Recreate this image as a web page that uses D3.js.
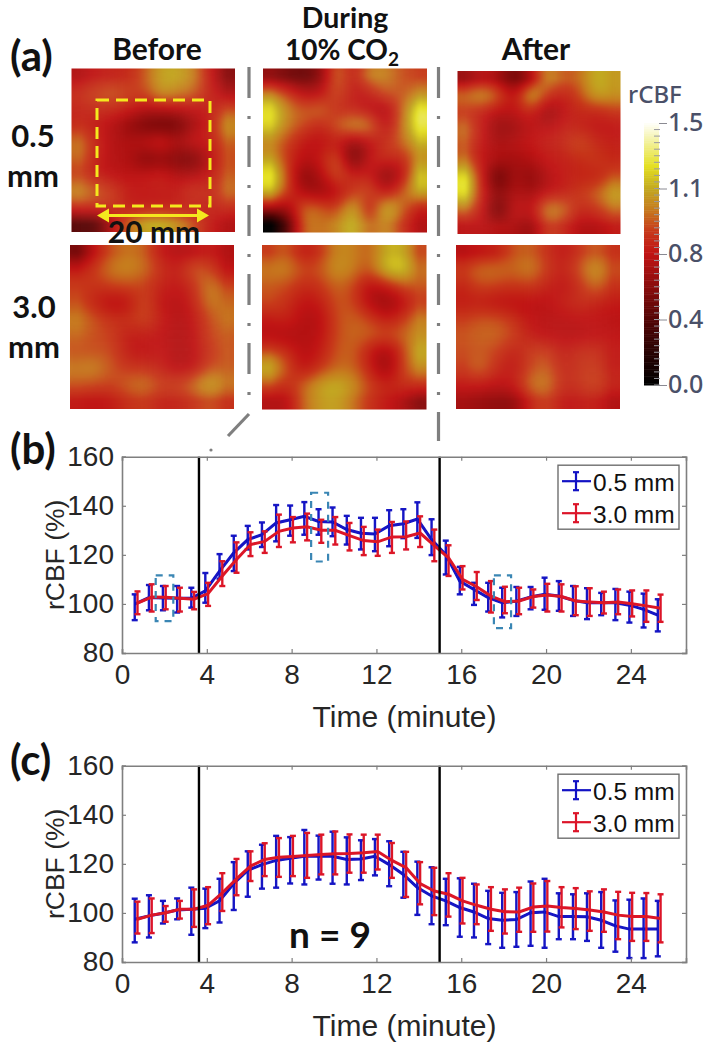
<!DOCTYPE html>
<html>
<head>
<meta charset="utf-8">
<script src="https://cdn.jsdelivr.net/npm/d3@7"></script>
<style>
  html, body { margin: 0; padding: 0; background: #fff; }
  svg { display: block; }
  .heading { font-family: Lato, sans-serif; font-weight: 700; fill: #111; }
  .axis text { font-family: "Liberation Sans", sans-serif; font-size: 28px; fill: #262626; }
</style>
</head>
<body>
<script>
// rCBF maps, 10 x 10 values
var beforeThin = [
  [.72,.78,.8,.82,.92,1.08,1.08,1.0,.78,.6],
  [.85,.92,.95,.9,.88,1.08,1.0,.95,.8,.7],
  [.8,.82,.82,.8,.72,.72,.74,.75,.78,.9],
  [.82,.78,.72,.62,.52,.48,.5,.68,.8,1.05],
  [.98,.82,.72,.72,.78,.88,.72,.82,.78,.92],
  [.95,.8,.72,.72,.55,.6,.55,.52,.75,.9],
  [.85,.78,.74,.75,.78,.82,.72,.72,.78,.92],
  [1.05,.95,.88,.78,.76,.78,.78,.88,.8,.98],
  [.85,.85,.85,.78,.78,.78,.78,.78,.8,.82],
  [.45,.45,.75,.95,1.08,1.1,1.02,.9,.78,.72]
]
var duringThin = [
  [.62,.55,.5,.6,1.0,.75,1.0,1.0,.9,.88],
  [1.0,.88,.72,.72,.95,.75,.78,.95,.9,1.0],
  [1.22,1.0,.92,1.0,.8,.8,.72,.65,.95,1.25],
  [1.18,.98,.9,.78,.95,1.08,1.05,.7,.98,1.25],
  [.98,.88,.75,.74,.78,.6,.72,.85,.95,1.1],
  [1.05,.85,.74,.78,.98,.45,.8,.85,.8,1.0],
  [1.25,.9,.55,.72,.95,.8,.8,.55,.72,1.15],
  [1.15,.88,.68,.62,.72,.85,.95,.7,.95,1.12],
  [.72,.65,1.0,.95,.85,1.15,.7,1.2,.95,.78],
  [.1,.45,1.0,.95,1.0,1.15,.9,1.05,.85,.72]
]
var afterThin = [
  [.65,.75,.7,.5,.72,1.05,.9,.95,1.12,1.05],
  [1.02,1.1,.98,.72,1.2,.85,.78,.9,1.1,1.05],
  [.82,.78,.72,.75,.82,.6,.75,.82,.78,.85],
  [.98,.78,.62,.65,.75,.75,.8,.8,.76,.75],
  [.9,.76,.7,.75,.78,.8,.82,.95,.82,.8],
  [.95,.74,.72,.66,.72,.78,.78,.82,.88,.82],
  [1.22,.8,.42,.72,.58,.72,.78,.82,.78,.9],
  [1.22,.8,.62,.72,.68,.75,.78,.88,.95,1.1],
  [.95,.8,.45,.82,.72,1.08,1.0,.8,.85,.95],
  [.75,.75,.72,.72,.62,.9,.82,.72,.72,.78]
]
var beforeThick = [
  [.55,.78,.92,.98,.95,.78,.72,.75,.8,.72],
  [.8,.88,1.0,1.02,.98,.85,.78,.95,.9,.75],
  [.88,.85,.88,.9,.88,.8,.76,.82,1.02,.9],
  [.9,.8,.72,.74,.92,.76,.72,.8,1.0,.95],
  [1.0,.92,.85,.85,.92,.8,.72,.76,.9,.98],
  [.95,.9,.88,.78,.78,.76,.72,.74,.9,.92],
  [.9,.9,.9,.78,.74,.78,.72,.74,.85,.92],
  [1.0,1.02,.92,.85,.85,.8,.72,.74,.9,.92],
  [.92,.9,.88,.95,1.0,.9,.9,.98,1.12,1.0],
  [.78,.76,.78,.85,.88,.8,.8,.85,.92,.85]
]
var duringThick = [
  [.88,.95,.78,.85,1.02,1.0,.92,1.1,1.12,.9],
  [1.0,1.02,.9,.92,1.05,1.0,.9,1.15,1.2,.98],
  [.92,.9,.82,.85,.95,.9,.72,.76,.9,.92],
  [.9,.85,.75,.78,.92,.9,.72,.62,.72,.85],
  [.78,.82,.72,.72,.9,.95,.9,.78,.85,1.0],
  [.72,.7,.72,.74,.9,.95,.95,.92,.95,1.02],
  [.9,.85,.72,.78,.92,.95,.78,.65,.85,1.1],
  [1.15,.92,.74,.85,.95,.95,.82,.62,.88,1.02],
  [.9,.82,.95,1.08,1.12,1.05,.9,.82,.85,.85],
  [.72,.72,.95,1.05,1.08,.98,.85,.78,.72,.6]
]
var afterThick = [
  [.74,.78,.8,.92,.95,.85,.76,.85,.95,.85],
  [.9,.98,.98,.95,1.02,.88,.78,.92,1.08,.92],
  [.82,.9,.88,.85,.88,.8,.75,.82,.98,.85],
  [.78,.78,.74,.74,.74,.74,.8,.85,.8,.78],
  [.88,.92,.92,.85,.76,.74,.74,.76,.76,.74],
  [.92,.95,.95,.9,.78,.74,.74,.72,.76,.76],
  [.9,.92,.88,.78,.88,.9,.78,.85,.85,.78],
  [.88,.98,.82,.76,.88,.95,.8,.85,.88,.78],
  [.78,.78,.75,.78,.98,1.02,.82,.85,.92,.82],
  [.68,.65,.62,.62,.82,.9,.76,.78,.8,.72]
]

// time courses
var timeThin = [.6,1.27,1.93,2.6,3.27,3.93,4.6,5.27,5.93,6.6,7.27,7.93,8.6,9.27,9.93,10.6,11.27,11.93,12.6,13.27,13.93,14.6,15.27,15.93,16.6,17.27,17.93,18.6,19.27,19.93,20.6,21.27,21.93,22.6,23.27,23.93,24.6,25.27]
var timeThick = [.73,1.4,2.06,2.73,3.4,4.06,4.73,5.4,6.06,6.73,7.4,8.06,8.73,9.4,10.06,10.73,11.4,12.06,12.73,13.4,14.06,14.73,15.4,16.06,16.73,17.4,18.06,18.73,19.4,20.06,20.73,21.4,22.06,22.73,23.4,24.06,24.73,25.4]

var bThinMean = [99.9,102.6,102.4,102.3,102.3,105.3,113.4,120.8,126.2,128.2,133,134.3,135.7,133.6,133.4,130.3,128.8,128.5,131.9,132.7,134.6,126.2,120.1,109.3,105.9,102.6,100.5,101.1,102.8,103.9,103.2,101.5,100.5,100.5,100.5,99.5,97.8,95.4]
var bThinHigh = [103.9,107.7,107.3,107.3,106.6,112.6,120.3,127.8,131.8,133.2,140.3,140.1,141.5,138.6,139.3,135.9,135.1,135.1,138.2,138.6,141.4,134.5,125.8,115.1,108.6,108.6,106.6,106.9,106.9,110.7,109.3,107.3,106.4,104.5,106.1,105,104.2,101.9]
var bThinLow = [93.4,97.4,97.4,96.5,98.5,100.5,110.3,113.4,122.2,123.2,125.5,127.8,128.2,128.2,127.6,124.2,122.2,121.5,123.5,126.8,126.9,119.9,112,103.9,99.6,96.9,94.5,95.1,97.8,97.6,97.2,95.1,93.8,95.4,93.4,92.4,90.4,88.8]

var bThickMean = [100.3,102.8,102.7,102.3,101.9,104.2,111.4,118.1,124.2,125.5,129.6,130.9,131.4,130,130,127.8,125.8,125.3,127.3,127.4,128.9,123.8,118.8,110,107,103.2,100.9,101.2,103,103.6,103,101.2,100.8,100.5,100.8,100.1,99.2,98.2]
var bThickHigh = [105.1,108,107.3,106.6,104.9,108.6,117.4,125.1,129.2,129.6,136.4,135.4,136.8,134.3,135.4,133,131.4,130.3,133.4,133.6,135.7,130.3,123.9,115.4,113,109.3,107,106.6,105.9,108.2,108,107.2,106.4,105,105.9,105.5,105.5,103.8]
var bThickLow = [95.8,96.9,97.8,96.9,97.8,99.2,107.3,112.7,119.5,120.8,123.2,125.1,125.9,124.9,124.2,121.8,119.9,119.6,120.8,122.2,123.2,117.4,111.4,105.9,101.6,96.5,96.2,95.8,98.5,96.9,96.9,95.4,95.1,96.1,95.8,94.9,92.7,92.7]

var cThinMean = [97.4,98.8,99.9,101.2,101.5,101.9,104.9,112,117.3,119.7,121.4,122.3,123.1,123.1,123.1,121.8,122,123.1,119.7,115.7,110.3,106.9,104.9,102.2,100.4,97.7,97,97.3,100.1,100.4,98.5,98.5,98.4,97,94.7,93.4,93.4,93.4]
var cThinHigh = [105.8,107.2,104.9,105.9,110.3,109.9,113.9,120.7,125.1,127.8,131.4,130.9,133.8,131.5,133.1,130.8,129.6,130.1,129.2,124.9,120.9,118.6,113.9,114.1,111.9,109,108.2,108.5,112.8,113.9,108,107.6,108,108.5,105.1,105.4,105.9,104.9]
var cThinLow = [88,90,95.7,97.4,91.1,93.8,96.1,101.2,106.6,109.9,110.3,112,111.6,113.6,111.9,111.6,113.4,115.3,110.9,106.2,99.2,95.4,95,90.3,90,87.3,85.8,86.2,86.6,85.8,89.3,89.3,88.6,85.8,84.2,81.6,81.6,82.3]

var cThickMean = [97.4,99.1,100.1,101.5,101.5,103.1,108.2,113.9,119.1,121.8,122.7,123,123.4,123.8,124.1,124.2,124.5,125,121.4,118.4,112,108.9,107.6,104.9,103.1,101.5,100.5,100.4,102.4,102.8,102.2,101.8,101.2,100.4,99.1,98.5,98.5,97.7]
var cThickHigh = [104.6,105.9,102.8,104.9,109.6,110.5,116.2,122,125.1,128.4,130.5,131.4,132.6,131.9,133.2,132,131.9,131.9,128.5,124.9,120.7,118.4,116.2,114.3,111.6,110.5,109.6,110.3,112,113,110.5,110.1,108.8,109.6,108.6,108.2,108.1,107.6]
var cThickLow = [91.6,91.8,96.4,97.7,94.3,95.4,100.8,107.2,113,115,114.7,115,114.3,115.7,115.7,116.4,116.4,117.7,114.3,106.5,103.5,99.1,98.5,95.7,95.4,92.7,91.6,92.3,92.3,92.4,94.1,93.4,92.7,92.3,89.3,88.6,88.6,88]

var eventTimes = [3.63, 14.98]
var xTicks = [0, 4, 8, 12, 16, 20, 24]
var yTicks = [80, 100, 120, 140, 160]
var legendLabels = ['0.5 mm', '3.0 mm']
// dashed boxes in (b): t0, t1, rCBF low, rCBF high
var boxT0 = [1.59, 8.92, 17.54]
var boxT1 = [2.42, 9.72, 18.35]
var boxLow = [93, 117.3, 90.1]
var boxHigh = [111.6, 145.3, 111.6]

var cbarTicks = [0, .375, .75, 1.125, 1.5]
var colorStops = [0, .35, .6, .75, .88, 1.0, 1.12, 1.25, 1.5]
var colorValues = ['#000000', '#4d0505', '#950e0e', '#c01414', '#c73a1a', '#c67a1e', '#c2a820', '#e4e022', '#ffffff']

var blue = '#1212c4', red = '#dc1428'

var svg = d3.select('body').append('svg')
  .attr('width', 708)
  .attr('height', 1050)
  .style('font-family', 'Lato, sans-serif')

var defs = svg.append('defs')
defs.append('filter').attr('id', 'soft')
  .attr('filterUnits', 'userSpaceOnUse')
  .attr('x', -20).attr('y', -20).attr('width', 220).attr('height', 220)
  .attr('color-interpolation-filters', 'sRGB')
  .append('feGaussianBlur').attr('stdDeviation', 1.5)
defs.append('filter').attr('id', 'soft-mark')
  .attr('filterUnits', 'userSpaceOnUse')
  .attr('x', 0).attr('y', 0).attr('width', 708).attr('height', 1050)
  .append('feGaussianBlur').attr('stdDeviation', 0.35)

var color = d3.scaleLinear().domain(colorStops).range(colorValues).clamp(true)

// one heat map panel: the 10 x 10 grid is splined up to small cells, then coloured
function heatmap(id, grid, left, top, size) {
  var steps = 55
  var fine = d3.range(steps)
  var band = d3.scaleBand().domain(fine).range([0, size])
  // fine index to spline position, grid values sit at cell centres
  var pos = d3.scaleLinear().domain([-.5, steps - .5]).range([-.5 / 9, 9.5 / 9]).clamp(true)
  var columns = d3.range(10).map(c => d3.interpolateBasis(grid.map(row => row[c])))
  var pad = 6
  defs.append('clipPath').attr('id', id)
    .append('rect').attr('width', size).attr('height', size)
  var g = svg.append('g')
    .attr('transform', 'translate(' + left + ',' + top + ')')
    .attr('clip-path', 'url(#' + id + ')')
    .append('g').attr('filter', 'url(#soft)')
  fine.forEach(r => {
    var tr = Math.max(0, Math.min(1, pos(r)))
    var across = d3.interpolateBasis(columns.map(f => f(tr)))
    fine.forEach(c => {
      var v = across(Math.max(0, Math.min(1, pos(c))))
      // edge cells run past the clip so the blur does not fade out
      var x0 = band(c) - (c === 0 ? pad : 0)
      var x1 = band(c) + band.bandwidth() + (c === steps - 1 ? pad : 0) + .4
      var y0 = band(r) - (r === 0 ? pad : 0)
      var y1 = band(r) + band.bandwidth() + (r === steps - 1 ? pad : 0) + .4
      g.append('rect')
        .attr('x', x0).attr('y', y0)
        .attr('width', x1 - x0).attr('height', y1 - y0)
        // stretch a little, the spline flattens the peaks
        .attr('fill', color(.85 + (v - .85) * 1.15))
    })
  })
}

heatmap('m1', beforeThin, 71.5, 68.5, 163.5)
heatmap('m2', duringThin, 263, 68.5, 164)
heatmap('m3', afterThin, 457.5, 71, 163)
heatmap('m4', beforeThick, 70, 245, 164)
heatmap('m5', duringThick, 262, 245, 164.5)
heatmap('m6', afterThick, 456, 245, 164)

// region of interest and scale arrow
svg.append('rect')
  .attr('x', 97).attr('y', 100).attr('width', 113).attr('height', 106)
  .attr('fill', 'none').attr('stroke', '#f4e81e').attr('stroke-width', 3)
  .attr('stroke-dasharray', '12 7')

function arrowHead(x, dir) {
  svg.append('path')
    .attr('d', 'M' + x + ' 215.5 l' + (dir * 12) + ' -7 v14 z')
    .attr('fill', '#f4e81e')
}
svg.append('line')
  .attr('x1', 100).attr('x2', 206).attr('y1', 215.5).attr('y2', 215.5)
  .attr('stroke', '#f4e81e').attr('stroke-width', 3)
arrowHead(97, 1)
arrowHead(209, -1)

// grey dash-dot separators
function separator(d) {
  svg.append('path')
    .attr('d', d)
    .attr('fill', 'none').attr('stroke', '#7f7f7f').attr('stroke-width', 3.2)
    .attr('stroke-dasharray', '31 18 3 17')
}
separator('M249 67 V406')
separator('M438.5 67 V441')
svg.append('line')
  .attr('x1', 249).attr('y1', 414).attr('x2', 228).attr('y2', 436)
  .attr('stroke', '#7f7f7f').attr('stroke-width', 3.2)
svg.append('circle').attr('cx', 211).attr('cy', 450).attr('r', 1.6).attr('fill', '#7f7f7f')

// headings of part (a)
function heading(txt, x, y, size, anchor) {
  return svg.append('text').attr('class', 'heading')
    .attr('x', x).attr('y', y)
    .attr('text-anchor', anchor || 'middle')
    .style('font-size', size + 'px')
    .text(txt)
}
heading('(a)', 10, 71, 42, 'start')
heading('(b)', 10, 464, 42, 'start')
heading('(c)', 10, 775, 42, 'start')
heading('Before', 157, 60, 30)
heading('During', 345, 28, 28.5)
var co2 = heading('10% CO', 342, 60, 28)
co2.append('tspan').attr('dy', 6).style('font-size', '19px').text('2')
heading('After', 536, 60, 30)
heading('0.5', 33, 147, 31)
heading('mm', 33, 187, 31)
heading('3.0', 34, 318, 31)
heading('mm', 34, 358, 31)
heading('20 mm', 154, 243, 30)

// colour bar
var cbarY = d3.scaleLinear().domain([0, 1.5]).range([385, 123])
var cbar = svg.append('g').attr('class', 'cbar')
d3.range(0, 1.5, .01).forEach(v => {
  cbar.append('rect')
    .attr('x', 644).attr('width', 15)
    .attr('y', cbarY(v + .01)).attr('height', cbarY(v) - cbarY(v + .01) + .5)
    .attr('fill', color(v))
})
d3.range(0, 1.5, .0375).forEach(v => {
  cbar.append('line')
    .attr('x1', 654).attr('x2', 660).attr('y1', cbarY(v)).attr('y2', cbarY(v))
    .attr('stroke', '#9a9aa0').attr('stroke-width', 1)
})
var cbarAxis = cbar.append('g')
  .attr('transform', 'translate(659,0)')
  .call(d3.axisRight(cbarY).tickValues(cbarTicks).tickFormat(d3.format('.1f')).tickSize(8).tickPadding(1))
cbarAxis.select('.domain').remove()
cbarAxis.selectAll('.tick line').attr('stroke', '#8a8a92')
cbarAxis.selectAll('text').attr('dy', '.3em')
  .style('font-family', '"Noto Sans", sans-serif').style('font-size', '25px').style('font-weight', 500)
  .attr('fill', '#4a5068')
svg.append('text')
  .attr('x', 628).attr('y', 103)
  .style('font-family', '"Noto Sans", sans-serif').style('font-weight', 500).style('font-size', '24px')
  .attr('fill', '#4a5068')
  .text('rCBF')

// time course panel
function panel(opt) {
  var x = d3.scaleLinear().domain([0, 26.6]).range([122, 686])
  var y = d3.scaleLinear().domain([80, 160]).range([opt.bottom, opt.top])
  var root = svg.append('g')

  var marks = root.append('g').attr('filter', 'url(#soft-mark)')

  var series = [
    { t: timeThin, mean: opt.thin[0], high: opt.thin[1], low: opt.thin[2], c: blue },
    { t: timeThick, mean: opt.thick[0], high: opt.thick[1], low: opt.thick[2], c: red }
  ]
  var line = d3.line().x(d => x(d.t)).y(d => y(d.v))

  series.forEach(s => {
    var rows = s.t.map((t, i) => ({ t: t, v: s.mean[i], high: s.high[i], low: s.low[i] }))
    var g = marks.append('g').attr('stroke', s.c).attr('fill', 'none')
    g.append('path').datum(rows).attr('d', line).attr('stroke-width', 3)
    var bars = g.selectAll('g').data(rows).join('g').attr('stroke-width', 2.4)
    bars.append('line')
      .attr('x1', d => x(d.t)).attr('x2', d => x(d.t))
      .attr('y1', d => y(d.high)).attr('y2', d => y(d.low))
    bars.append('line')
      .attr('x1', d => x(d.t) - 3).attr('x2', d => x(d.t) + 3)
      .attr('y1', d => y(d.high)).attr('y2', d => y(d.high))
    bars.append('line')
      .attr('x1', d => x(d.t) - 3).attr('x2', d => x(d.t) + 3)
      .attr('y1', d => y(d.low)).attr('y2', d => y(d.low))
  })

  if (opt.boxes) {
    boxT0.forEach((t, i) => {
      root.append('rect')
        .attr('x', x(t)).attr('width', x(boxT1[i]) - x(t))
        .attr('y', y(boxHigh[i])).attr('height', y(boxLow[i]) - y(boxHigh[i]))
        .attr('fill', 'none').attr('stroke', '#3a86b4').attr('stroke-width', 2.2)
        .attr('stroke-dasharray', '7 6')
    })
  }

  eventTimes.forEach(t => {
    root.append('line')
      .attr('x1', x(t)).attr('x2', x(t))
      .attr('y1', opt.top).attr('y2', opt.bottom)
      .attr('stroke', '#000').attr('stroke-width', 2.4)
  })

  // frame and inward ticks on all four sides
  var ax = root.append('g').attr('class', 'axis')
  var bottomAxis = ax.append('g')
    .attr('transform', 'translate(0,' + opt.bottom + ')')
    .call(d3.axisBottom(x).tickValues(xTicks).tickSize(-4).tickPadding(11).tickFormat(d3.format('d')))
  var leftAxis = ax.append('g')
    .attr('transform', 'translate(122,0)')
    .call(d3.axisLeft(y).tickValues(yTicks).tickSize(-4).tickPadding(8).tickFormat(d3.format('d')))
  var topAxis = ax.append('g')
    .attr('transform', 'translate(0,' + opt.top + ')')
    .call(d3.axisTop(x).tickValues(xTicks).tickSize(-4).tickFormat(''))
  var rightAxis = ax.append('g')
    .attr('transform', 'translate(686,0)')
    .call(d3.axisRight(y).tickValues(yTicks).tickSize(-4).tickFormat(''))
  ;[bottomAxis, leftAxis, topAxis, rightAxis].forEach(a => {
    a.select('.domain').attr('stroke', '#7f7f7f').attr('stroke-width', 1.6)
    a.selectAll('.tick line').attr('stroke', '#7f7f7f').attr('stroke-width', 1.2)
  })
  ax.selectAll('text').attr('fill', '#262626')

  root.append('text')
    .attr('x', 404.5).attr('y', opt.bottom + 74)
    .attr('text-anchor', 'middle')
    .style('font-family', '"Liberation Sans", sans-serif').style('font-size', '30px')
    .attr('fill', '#262626')
    .text('Time (minute)')
  root.append('text')
    .attr('transform', 'translate(64,' + ((opt.top + opt.bottom) / 2) + ') rotate(-90)')
    .attr('text-anchor', 'middle')
    .style('font-family', '"Liberation Sans", sans-serif').style('font-size', '26.5px')
    .attr('fill', '#262626')
    .text('rCBF (%)')

  // legend
  var lg = root.append('g').attr('transform', 'translate(558,' + (opt.top + 8.5) + ')')
  lg.append('rect').attr('width', 121).attr('height', 64)
    .attr('fill', '#fff').attr('stroke', '#6f6f6f').attr('stroke-width', 1.4)
  legendLabels.forEach((name, i) => {
    var ly = 16 + i * 32
    var c = i === 0 ? blue : red
    var k = lg.append('g').attr('stroke', c).attr('stroke-width', 2.2)
    k.append('line').attr('x1', 4).attr('x2', 33).attr('y1', ly).attr('y2', ly)
    k.append('line').attr('x1', 18).attr('x2', 18).attr('y1', ly - 9).attr('y2', ly + 9)
    k.append('line').attr('x1', 15).attr('x2', 21).attr('y1', ly - 9).attr('y2', ly - 9)
    k.append('line').attr('x1', 15).attr('x2', 21).attr('y1', ly + 9).attr('y2', ly + 9)
    lg.append('text').attr('x', 35).attr('y', ly + 9.5)
      .style('font-family', '"Liberation Sans", sans-serif').style('font-size', '24.5px')
      .attr('fill', '#111')
      .text(name)
  })
}

panel({ top: 456.7, bottom: 653, thin: [bThinMean, bThinHigh, bThinLow], thick: [bThickMean, bThickHigh, bThickLow], boxes: true })
panel({ top: 765.7, bottom: 962, thin: [cThinMean, cThinHigh, cThinLow], thick: [cThickMean, cThickHigh, cThickLow] })

heading('n = 9', 330, 948, 37)
</script>
</body>
</html>
